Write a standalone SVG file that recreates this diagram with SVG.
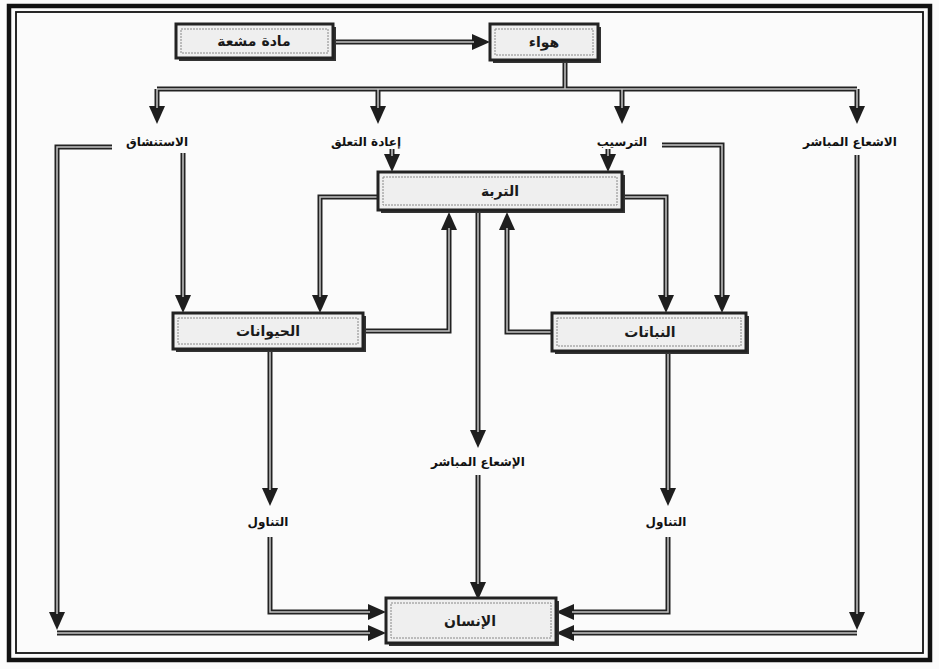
<svg xmlns="http://www.w3.org/2000/svg" width="939" height="669" viewBox="0 0 939 669">
<defs>
<marker id="ah" markerUnits="userSpaceOnUse" markerWidth="18" markerHeight="16" refX="2" refY="8" orient="auto" overflow="visible">
<path d="M0,0 L18,8 L0,16 Z" fill="#1e1e1e"/>
</marker>
</defs>
<style>
.box{fill:#efefef;stroke:#222;stroke-width:3}
.boxin{fill:none;stroke:#888;stroke-width:1;stroke-dasharray:2 1}
.sh{fill:#333}
.bt{font-family:"DejaVu Sans",sans-serif;font-size:14px;font-weight:bold;fill:#1a1a1a;text-anchor:middle;dominant-baseline:central}
.lb{font-family:"DejaVu Sans",sans-serif;font-size:12px;font-weight:bold;fill:#111;text-anchor:middle;dominant-baseline:central}
.c{fill:none;stroke:#222;stroke-width:5}
.ci{fill:none;stroke:#c4c4c4;stroke-width:1.5}
.ca{marker-end:url(#ah)}
.frame{fill:none;stroke:#111}
</style>
<rect width="939" height="669" fill="#fbfbfb"/>
<g id="frame">
<rect class="frame" x="9" y="6" width="921" height="654" stroke-width="4.5"/>
<rect class="frame" x="16" y="12" width="907" height="641" stroke-width="1.8"/>
</g>
<g id="connectors">
<g class="c">
<path class="ca" d="M333,42 H474"/>
<path d="M565,60 V89"/>
<path d="M157,89 H857"/>
<path class="ca" d="M157,89 V108"/>
<path class="ca" d="M378,89 V108"/>
<path class="ca" d="M622,89 V108"/>
<path class="ca" d="M857,89 V108"/>
<path class="ca" d="M112,147 H57 V614"/>
<path class="ca" d="M57,633 H370"/>
<path class="ca" d="M183,153 V297"/>
<path class="ca" d="M392,149 V156"/>
<path class="ca" d="M608,149 V156"/>
<path class="ca" d="M662,145 H722 V297"/>
<path class="ca" d="M857,155 V614"/>
<path class="ca" d="M857,633 H572"/>
<path class="ca" d="M378,197 H320 V297"/>
<path class="ca" d="M622,197 H666 V297"/>
<path class="ca" d="M363,331 H449 V228"/>
<path class="ca" d="M552,332 H507 V228"/>
<path class="ca" d="M478,210 V432"/>
<path class="ca" d="M478,475 V584"/>
<path class="ca" d="M270,349 V490"/>
<path class="ca" d="M270,537 V612 H370"/>
<path class="ca" d="M668,351 V490"/>
<path class="ca" d="M668,537 V612 H572"/>
</g>
<g class="ci">
<path d="M333,42 H474"/>
<path d="M565,60 V89"/>
<path d="M157,89 H857"/>
<path d="M157,89 V108"/>
<path d="M378,89 V108"/>
<path d="M622,89 V108"/>
<path d="M857,89 V108"/>
<path d="M112,147 H57 V614"/>
<path d="M57,633 H370"/>
<path d="M183,153 V297"/>
<path d="M392,149 V156"/>
<path d="M608,149 V156"/>
<path d="M662,145 H722 V297"/>
<path d="M857,155 V614"/>
<path d="M857,633 H572"/>
<path d="M378,197 H320 V297"/>
<path d="M622,197 H666 V297"/>
<path d="M363,331 H449 V228"/>
<path d="M552,332 H507 V228"/>
<path d="M478,210 V432"/>
<path d="M478,475 V584"/>
<path d="M270,349 V490"/>
<path d="M270,537 V612 H370"/>
<path d="M668,351 V490"/>
<path d="M668,537 V612 H572"/>
</g>
</g>
<g id="n-source">
<rect class="sh" x="179" y="27" width="157" height="34"/>
<rect class="box" x="176" y="24" width="157" height="34"/>
<rect class="boxin" x="181" y="29" width="147" height="24"/>
<text class="bt" x="254" y="41">مادة مشعة</text>
</g>
<g id="n-air">
<rect class="sh" x="493" y="27" width="108" height="36"/>
<rect class="box" x="490" y="24" width="108" height="36"/>
<rect class="boxin" x="495" y="29" width="98" height="26"/>
<text class="bt" x="544" y="42">هواء</text>
</g>
<g id="l-inhal"><text class="lb" x="157" y="142">الاستنشاق</text></g>
<g id="l-resusp"><text class="lb" x="366" y="142">إعادة التعلق</text></g>
<g id="l-depos"><text class="lb" x="622" y="142">الترسيب</text></g>
<g id="l-direct1"><text class="lb" x="850" y="142">الاشعاع المباشر</text></g>
<g id="n-soil">
<rect class="sh" x="381" y="175" width="244" height="38"/>
<rect class="box" x="378" y="172" width="244" height="38"/>
<rect class="boxin" x="383" y="177" width="234" height="28"/>
<text class="bt" x="500" y="191">التربة</text>
</g>
<g id="n-animals">
<rect class="sh" x="176" y="316" width="190" height="36"/>
<rect class="box" x="173" y="313" width="190" height="36"/>
<rect class="boxin" x="178" y="318" width="180" height="26"/>
<text class="bt" x="268" y="331">الحيوانات</text>
</g>
<g id="n-plants">
<rect class="sh" x="555" y="316" width="194" height="38"/>
<rect class="box" x="552" y="313" width="194" height="38"/>
<rect class="boxin" x="557" y="318" width="184" height="28"/>
<text class="bt" x="650" y="332">النباتات</text>
</g>
<g id="l-direct2"><text class="lb" x="478" y="462">الإشعاع المباشر</text></g>
<g id="l-ingest1"><text class="lb" x="268" y="522">التناول</text></g>
<g id="l-ingest2"><text class="lb" x="666" y="522">التناول</text></g>
<g id="n-human">
<rect class="sh" x="389" y="601" width="170" height="45"/>
<rect class="box" x="386" y="598" width="170" height="45"/>
<rect class="boxin" x="391" y="603" width="160" height="35"/>
<text class="bt" x="470" y="621">الإنسان</text>
</g>
</svg>
